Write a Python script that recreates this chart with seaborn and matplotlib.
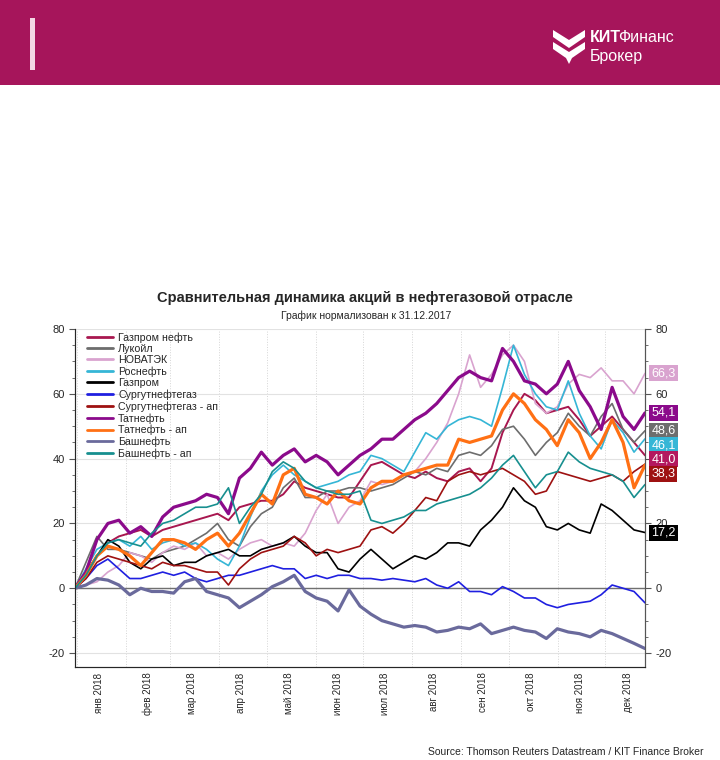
import pandas as pd
import matplotlib
matplotlib.use("Agg")
import matplotlib.pyplot as plt
import matplotlib.dates as mdates
from matplotlib.ticker import MultipleLocator, NullFormatter, FuncFormatter
from matplotlib.patches import Rectangle, Polygon
import seaborn as sns

# Данные (недельные точки, % к 31.12.2017)
dates = pd.date_range("2017-12-31", "2018-12-26", periods=53)

gazprom_neft = [0, 4, 10, 14, 16, 17, 18, 16, 18, 19, 20, 21, 22, 23, 21, 25, 26, 27, 27, 29,
                33, 31, 30, 29, 28, 28, 33, 38, 39, 37, 35, 34, 36, 34, 33, 36, 37, 33, 37, 48,
                55, 60, 58, 54, 55, 56, 52, 47, 50, 53, 49, 45, 41.0]
lukoil = [0, 8, 16, 12, 12, 11, 10, 9, 11, 12, 13, 15, 17, 20, 15, 13, 19, 23, 25, 31,
          34, 28, 28, 30, 30, 31, 31, 30, 31, 32, 34, 36, 35, 37, 36, 41, 42, 41, 44, 49,
          50, 46, 41, 45, 48, 54, 50, 47, 53, 57, 49, 45, 48.6]
novatek = [0, 1, 2, 5, 7, 11, 10, 8, 11, 13, 12, 14, 10, 11, 9, 12, 14, 15, 13, 14,
           13, 17, 24, 29, 20, 25, 27, 33, 32, 33, 35, 36, 40, 45, 51, 60, 72, 62, 66, 72,
           75, 70, 57, 54, 56, 63, 66, 65, 68, 64, 64, 60, 66.3]
rosneft = [0, 6, 12, 14, 15, 13, 16, 12, 14, 15, 13, 14, 12, 9, 7, 13, 22, 30, 35, 38,
           35, 33, 31, 32, 33, 35, 36, 41, 40, 38, 36, 42, 48, 46, 50, 52, 53, 52, 50, 62,
           75, 66, 60, 56, 55, 64, 54, 47, 43, 52, 48, 42, 46.1]
gazprom = [0, 5, 10, 15, 13, 8, 6, 9, 10, 7, 8, 8, 10, 11, 12, 10, 10, 12, 13, 14,
           16, 13, 11, 11, 6, 5, 9, 12, 9, 6, 8, 10, 9, 11, 14, 14, 13, 18, 21, 25,
           31, 27, 25, 19, 18, 20, 18, 17, 26, 24, 21, 18, 17.2]
surgut = [0, 3, 7, 9, 6, 3, 3, 4, 5, 4, 5, 3, 2, 3, 4, 4, 5, 6, 7, 6,
          6, 3, 4, 3, 4, 4, 3, 3, 2.5, 3, 2.5, 2, 3, 1, 0, 2, -1, -1, -2, 0.5,
          -1, -3, -3, -5, -6, -5, -4.5, -4, -2, 1, 0, -1, -4.5]
surgut_pref = [0, 3, 8, 10, 9, 8, 7, 6, 8, 7, 7, 6, 5, 5, 1, 6, 9, 11, 12, 13,
               16, 14, 10, 12, 11, 12, 13, 18, 19, 17, 20, 24, 28, 27, 33, 35, 36, 35, 36, 37,
               35, 33, 29, 30, 36, 35, 34, 33, 34, 35, 33, 36, 38.3]
tatneft = [0, 5, 15, 20, 21, 17, 19, 16, 22, 25, 26, 27, 29, 28, 23, 34, 37, 42, 38, 41,
           43, 39, 41, 39, 35, 38, 41, 43, 46, 46, 49, 52, 54, 57, 61, 65, 67, 65, 64, 74,
           70, 64, 63, 60, 63, 70, 61, 56, 49, 62, 53, 49, 54.1]
tatneft_pref = [0, 4, 10, 13, 12, 10, 7, 11, 15, 15, 14, 12, 15, 17, 13, 17, 23, 29, 26, 35,
                37, 29, 28, 26, 30, 27, 26, 31, 33, 33, 35, 36, 37, 38, 38, 46, 45, 46, 47, 55,
                60, 57, 52, 49, 44, 52, 48, 40, 45, 52, 45, 31, 38]
bashneft = [0, 1, 3, 2.5, 1, -2, 0, -1, -1, -1.5, 2, 3, -1, -2, -3, -6, -4, -2, 0.5, 2,
            4, -1, -3, -4, -7, -0.5, -5.5, -8, -10, -11, -12, -11.5, -12, -13.5, -13, -12, -12.5, -11, -14, -13,
            -12, -13, -13.5, -15.5, -12.5, -13.5, -14, -15, -13, -14, -15.5, -17, -18.6]
bashneft_pref = [0, 4, 10, 14, 15, 14, 13, 17, 20, 21, 23, 25, 25, 26, 31, 20, 25, 29, 36, 39,
                 37, 33, 31, 30, 29, 29, 30, 21, 20, 21, 22, 24, 24, 26, 27, 28, 29, 31, 34, 38,
                 41, 36, 31, 35, 36, 42, 39, 37, 36, 35, 33, 28, 32]

names = ["Газпром нефть", "Лукойл", "НОВАТЭК", "Роснефть", "Газпром", "Сургутнефтегаз",
         "Сургутнефтегаз - ап", "Татнефть", "Татнефть - ап", "Башнефть", "Башнефть - ап"]
series = [gazprom_neft, lukoil, novatek, rosneft, gazprom, surgut,
          surgut_pref, tatneft, tatneft_pref, bashneft, bashneft_pref]
colors = ["#a8174f", "#6d6d6d", "#d9a3cf", "#35b6d6", "#000000", "#1f1fe0",
          "#9e1111", "#8b0a8b", "#ff7014", "#6a6a9c", "#178f8f"]
widths = [1.4, 1.2, 1.2, 1.2, 1.2, 1.2, 1.2, 2.3, 2.3, 2.3, 1.2]

# у каких бумаг подписано последнее значение справа
labeled = ["НОВАТЭК", "Татнефть", "Лукойл", "Роснефть", "Газпром нефть", "Сургутнефтегаз - ап", "Газпром"]
box_colors = {"Газпром нефть": "#b3195f", "Татнефть": "#8b0a8b"}

months_ru = ["янв", "фев", "мар", "апр", "май", "июн", "июл", "авг", "сен", "окт", "ноя", "дек"]

title = "Сравнительная динамика акций в нефтегазовой отрасле"
subtitle = "График нормализован к 31.12.2017"
source = "Source: Thomson Reuters Datastream / KIT Finance Broker"
HEADER = "#a6155b"

sns.set_style("white")
plt.rcParams["font.family"] = ["Liberation Sans", "DejaVu Sans"]
plt.rcParams["axes.unicode_minus"] = False

W, H = 720, 760
fig = plt.figure(figsize=(W / 100, H / 100), dpi=100)


def fx(x):
    return x / W


def fy(y):
    return 1 - y / H


# шапка
fig.patches.append(Rectangle((0, fy(85)), 1, 85 / H, transform=fig.transFigure,
                             facecolor=HEADER, edgecolor="none", zorder=0))
fig.patches.append(Rectangle((fx(30), fy(70)), 5 / W, 52 / H, transform=fig.transFigure,
                             facecolor="#f3d6e4", edgecolor="none", zorder=1))
for pts in ([(553, 30), (569, 40), (585, 30), (585, 37), (569, 48), (553, 37)],
            [(553, 42), (569, 52), (585, 42), (585, 49), (572, 58), (569, 64), (566, 58), (553, 49)]):
    fig.patches.append(Polygon([(fx(a), fy(b)) for a, b in pts], closed=True,
                               transform=fig.transFigure, facecolor="white", edgecolor="none", zorder=1))
t1 = fig.text(fx(590), fy(38), "КИТ", color="white", fontsize=11.5, fontweight="bold", va="center")
fig.canvas.draw()
bb = t1.get_window_extent()
fig.text((bb.x1 - 3) / W, fy(38), "Финанс", color="white", fontsize=11.5, va="center")
fig.text(fx(590), fy(56), "Брокер", color="white", fontsize=11.5, va="center")

fig.text(fx(365), fy(298), title, ha="center", va="center", fontsize=10.5, fontweight="bold")
fig.text(fx(366), fy(316), subtitle, ha="center", va="center", fontsize=7.5,
         family=["Liberation Sans Narrow", "Liberation Sans"])
fig.text(fx(703), fy(752), source, ha="right", va="center", fontsize=7.5)

# график
ax = fig.add_axes([fx(75), 93 / H, 570 / W, 338 / H])
for name, vals, col, lw in zip(names, series, colors, widths):
    sns.lineplot(x=dates, y=vals, ax=ax, color=col, linewidth=lw, label=name, estimator=None, zorder=3)

ax.axhline(0, color="#707070", lw=1, zorder=2)
ax.set_xlim(dates[0], dates[-1])
ax.set_ylim(-24.3, 80)
ax.set_xlabel("")
ax.set_ylabel("")

ax.yaxis.set_major_locator(MultipleLocator(20))
ax.yaxis.set_minor_locator(MultipleLocator(5))
ax.xaxis.set_major_locator(mdates.MonthLocator())
ax.xaxis.set_major_formatter(NullFormatter())
ax.xaxis.set_minor_locator(mdates.MonthLocator(bymonthday=15))
ax.xaxis.set_minor_formatter(FuncFormatter(
    lambda v, p: f"{months_ru[mdates.num2date(v).month - 1]} {mdates.num2date(v).year}"))
ax.tick_params(axis="x", which="minor", length=0, labelsize=7, labelrotation=90, pad=4)
ax.tick_params(axis="x", which="major", length=5, width=0.8, color="#555555")
ax.tick_params(axis="y", which="major", left=True, length=4, width=0.8, color="#555555", labelsize=8)
ax.tick_params(axis="y", which="minor", left=True, length=2, width=0.6, color="#555555")
ax.grid(axis="x", which="major", color="#d5d5d5", lw=0.7, ls=":")
ax.grid(axis="y", which="major", color="#e2e2e2", lw=0.8)
ax.spines["top"].set_visible(False)
for s in ("left", "right", "bottom"):
    ax.spines[s].set_color("#555555")
    ax.spines[s].set_linewidth(0.8)

ax2 = ax.twinx()
ax2.set_ylim(ax.get_ylim())
ax2.yaxis.set_major_locator(MultipleLocator(20))
ax2.yaxis.set_minor_locator(MultipleLocator(5))
ax2.tick_params(axis="y", which="major", right=True, length=4, width=0.8, color="#555555", labelsize=8)
ax2.tick_params(axis="y", which="minor", right=True, length=2, width=0.6, color="#555555")
ax2.spines["top"].set_visible(False)
ax2.spines["right"].set_color("#555555")
ax2.spines["right"].set_linewidth(0.8)

leg = ax.legend(loc="upper left", bbox_to_anchor=(0.01, 1.01), frameon=False, fontsize=7.7,
                handlelength=2.4, handletextpad=0.5, labelspacing=0.12, borderaxespad=0.2)
for line in leg.get_lines():
    line.set_linewidth(2)

# подписи последних значений справа
last = {n: s[-1] for n, s in zip(names, series)}
col_of = dict(zip(names, colors))
prev = None
for n in sorted(labeled, key=lambda k: -last[k]):
    ypos = last[n] if prev is None else min(last[n], prev - 4.4)
    prev = ypos
    ax2.annotate(f"{last[n]:.1f}".replace(".", ","), xy=(1, ypos),
                 xycoords=("axes fraction", "data"), xytext=(4.5, 0), textcoords="offset points",
                 ha="left", va="center", fontsize=9, color="white",
                 bbox=dict(boxstyle="square,pad=0.16", fc=box_colors.get(n, col_of[n]), ec="none"),
                 annotation_clip=False, zorder=10)

fig.savefig("out.png", dpi=100)
